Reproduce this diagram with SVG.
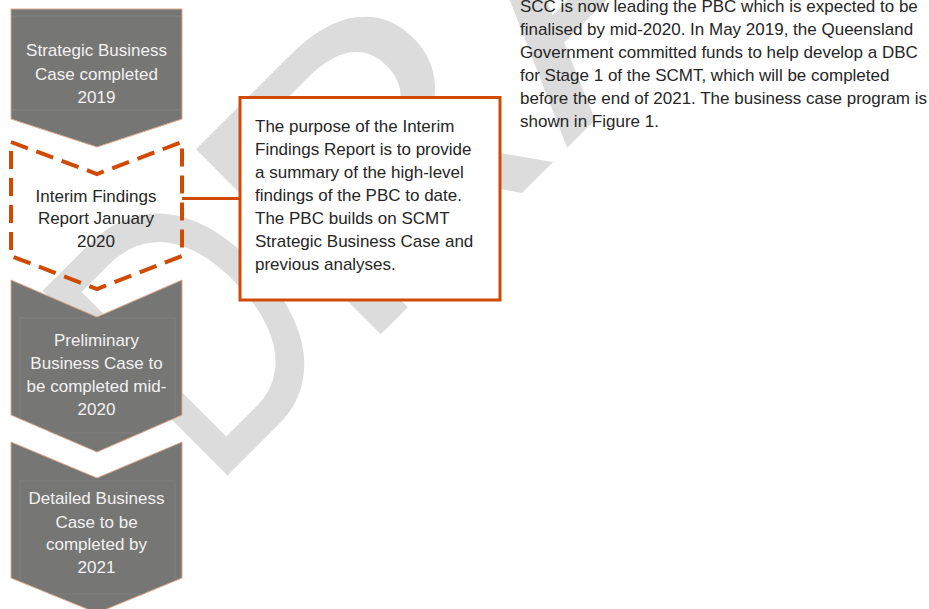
<svg xmlns="http://www.w3.org/2000/svg" width="929" height="609" viewBox="0 0 929 609">
  <style>
    .wm { font-family: "Liberation Sans", Arial, sans-serif; font-size: 380px; fill: #dcdcdc; }
    .chev { fill: #767674; stroke: #dca88e; stroke-width: 1; }
    .frame { fill: none; stroke: #80807e; stroke-width: 1; }
    .light { font-family: "Liberation Sans", Arial, sans-serif; font-size: 17px; fill: #f2f2f2; text-anchor: middle; }
    .dark { font-family: "Liberation Sans", Arial, sans-serif; font-size: 17px; fill: #262626; }
    .mid { text-anchor: middle; }
    .dash { fill: none; stroke: #d04a02; stroke-width: 4; stroke-dasharray: 18 9; }
    .box { fill: #ffffff; stroke: #d04a02; stroke-width: 3; }
    .conn { stroke: #d04a02; stroke-width: 3; fill: none; }
  </style>
  <defs>
    <clipPath id="clip3"><path d="M11,280 L97,317 L182,280 V415 L97,452 L11,415 Z"/></clipPath>
    <clipPath id="clip4"><path d="M11,442 L97,478 L182,442 V578 L97,613 L11,578 Z"/></clipPath>
  </defs>
  <rect width="929" height="609" fill="#ffffff"/>
  <g id="watermark">
    <text class="wm" transform="translate(211,492) rotate(-45) scale(0.75,1)">D</text>
    <text class="wm" transform="translate(357,358) rotate(-45) scale(1.08,1)">RAFT</text>
  </g>
  <g id="connectors">
    <line class="conn" x1="182" y1="198.5" x2="240" y2="198.5"/>
  </g>
  <g id="node-strategic">
    <path class="chev" d="M11,9 H182 V119 L97,147 L11,119 Z"/>
    <line class="frame" x1="12" y1="16" x2="181" y2="16"/>
    <line class="frame" x1="12" y1="110" x2="181" y2="110"/>
    <text class="light" x="96.5" y="56">Strategic Business</text>
    <text class="light" x="96.5" y="79.5">Case completed</text>
    <text class="light" x="96.5" y="102.5">2019</text>
  </g>
  <g id="node-interim">
    <path class="dash" d="M11,142 L97,174 L182,142 V256 L97,289 L11,256 Z"/>
    <text class="dark mid" x="96" y="201.5">Interim Findings</text>
    <text class="dark mid" x="96" y="224">Report January</text>
    <text class="dark mid" x="96" y="246.5">2020</text>
  </g>
  <g id="node-preliminary">
    <path class="chev" d="M11,280 L97,317 L182,280 V415 L97,452 L11,415 Z"/>
    <rect class="frame" x="20" y="318" width="155" height="115" clip-path="url(#clip3)"/>
    <text class="light" x="96.5" y="346">Preliminary</text>
    <text class="light" x="96.5" y="369">Business Case to</text>
    <text class="light" x="96.5" y="392">be completed mid-</text>
    <text class="light" x="96.5" y="415">2020</text>
  </g>
  <g id="node-detailed">
    <path class="chev" d="M11,442 L97,478 L182,442 V578 L97,613 L11,578 Z"/>
    <rect class="frame" x="20" y="481" width="155" height="113" clip-path="url(#clip4)"/>
    <text class="light" x="96.5" y="504">Detailed Business</text>
    <text class="light" x="96.5" y="527.5">Case to be</text>
    <text class="light" x="96.5" y="550">completed by</text>
    <text class="light" x="96.5" y="573">2021</text>
  </g>
  <g id="node-callout">
    <rect class="box" x="240" y="97.5" width="260" height="202.5"/>
    <text class="dark" x="255" y="131.5">The purpose of the Interim</text>
    <text class="dark" x="255" y="154.5">Findings Report is to provide</text>
    <text class="dark" x="255" y="177.5">a summary of the high-level</text>
    <text class="dark" x="255" y="200.5">findings of the PBC to date.</text>
    <text class="dark" x="255" y="223.5">The PBC builds on SCMT</text>
    <text class="dark" x="255" y="246.5">Strategic Business Case and</text>
    <text class="dark" x="255" y="269.5">previous analyses.</text>
  </g>
  <g id="paragraph">
    <text class="dark" x="520" y="12" font-size="16.8">SCC is now leading the PBC which is expected to be</text>
    <text class="dark" x="520" y="35" font-size="16.8">finalised by mid-2020. In May 2019, the Queensland</text>
    <text class="dark" x="520" y="58" font-size="16.8">Government committed funds to help develop a DBC</text>
    <text class="dark" x="520" y="81" font-size="16.8">for Stage 1 of the SCMT, which will be completed</text>
    <text class="dark" x="520" y="104" font-size="16.8">before the end of 2021. The business case program is</text>
    <text class="dark" x="520" y="127" font-size="16.8">shown in Figure 1.</text>
  </g>
</svg>
